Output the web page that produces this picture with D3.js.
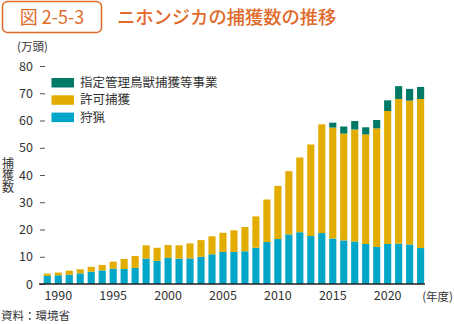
<!DOCTYPE html>
<html>
<head>
<meta charset="utf-8">
<script src="https://cdn.jsdelivr.net/npm/d3@7"></script>
<style>
  html, body { margin: 0; padding: 0; background: #fff; }
  svg text { font-family: "Noto Sans CJK JP", "Noto Sans", sans-serif; fill: #333; }
</style>
</head>
<body>
<svg id="chart" width="454" height="324"></svg>
<script>
// ニホンジカの捕獲数 (万頭), 1989–2023 年度
const years = d3.range(1989, 2024);
const hunting = [3.0, 3.2, 3.4, 3.9, 4.5, 5.0, 5.6, 5.5, 5.9,
  9.3, 8.5, 9.6, 9.3, 9.4, 10.0, 10.9, 11.8, 11.8, 12.0,
  13.3, 15.4, 16.5, 18.2, 19.0, 17.6, 18.7, 16.7, 16.0, 15.6, 14.7, 13.6, 14.7, 14.8, 14.5, 13.2];
const permit = [0.8, 1.0, 1.5, 1.5, 1.8, 2.0, 2.6, 3.7, 4.4,
  4.9, 4.8, 4.7, 4.9, 5.5, 6.1, 6.6, 7.0, 7.9, 8.9,
  11.5, 15.6, 19.5, 23.2, 27.4, 33.6, 39.9, 40.7, 39.2, 41.1, 40.2, 43.5, 48.8, 53.1, 52.8, 54.7];
const designated = [0, 0, 0, 0, 0, 0, 0, 0, 0,
  0, 0, 0, 0, 0, 0, 0, 0, 0, 0,
  0, 0, 0, 0, 0, 0, 0, 1.8, 2.6, 3.1, 2.6, 3.1, 3.9, 4.7, 4.3, 4.4];

const keys = ['hunting', 'permit', 'designated'];
const labels = { hunting: '狩猟', permit: '許可捕獲', designated: '指定管理鳥獣捕獲等事業' };
const colors = { hunting: '#00a6c8', permit: '#e2ac00', designated: '#007a66' };
const yTicks = [0, 10, 20, 30, 40, 50, 60, 70, 80];
const xTickYears = [1990, 1995, 2000, 2005, 2010, 2015, 2020];

const ORANGE = '#e06a2a';

const rows = years.map((y, i) => ({
  year: y, hunting: hunting[i], permit: permit[i], designated: designated[i]
}));

const svg = d3.select('#chart');

// Title
svg.append('rect')
  .attr('x', 2.5).attr('y', 1.5).attr('width', 99).attr('height', 31).attr('rx', 5)
  .attr('fill', '#fff').attr('stroke', ORANGE).attr('stroke-width', 1.5);
svg.append('text')
  .attr('x', 52).attr('y', 24).attr('text-anchor', 'middle')
  .style('font-size', '18px').style('fill', ORANGE)
  .text('図 2-5-3');
svg.append('text')
  .attr('x', 117).attr('y', 24)
  .style('font-size', '18.3px').style('font-weight', 500).style('fill', ORANGE)
  .text('ニホンジカの捕獲数の推移');

// Scales
const x = d3.scaleBand()
  .domain(years)
  .range([41.8, 426.1])
  .paddingInner(0.35)
  .paddingOuter(0.175);

const y = d3.scaleLinear().domain([0, 80]).range([284, 66]);

const stacked = d3.stack().keys(keys)(rows);

svg.append('g')
  .selectAll('g')
  .data(stacked)
  .join('g')
  .attr('fill', d => colors[d.key])
  .selectAll('rect')
  .data(d => d)
  .join('rect')
  .attr('x', d => x(d.data.year))
  .attr('width', x.bandwidth())
  .attr('y', d => y(d[1]))
  .attr('height', d => y(d[0]) - y(d[1]));

// Y axis (ticks only)
const yAxis = svg.append('g')
  .attr('transform', 'translate(45,0)')
  .call(d3.axisLeft(y).tickValues(yTicks).tickSize(5).tickPadding(7));
yAxis.select('.domain').remove();
yAxis.selectAll('.tick line').attr('stroke', '#555');
yAxis.selectAll('.tick text').style('font-size', '12.5px').style('fill', '#333')
  .attr('font-family', null);

// Baseline
svg.append('line')
  .attr('x1', 39).attr('x2', 425)
  .attr('y1', y(0)).attr('y2', y(0))
  .attr('stroke', '#222').attr('stroke-width', 1.5);

// X axis labels
const xAxis = svg.append('g')
  .attr('transform', `translate(0,${y(0)})`)
  .call(d3.axisBottom(x).tickValues(xTickYears).tickSize(0).tickPadding(7));
xAxis.select('.domain').remove();
xAxis.selectAll('.tick text').style('font-size', '12.5px').style('fill', '#333')
  .attr('font-family', null);

// Axis titles
svg.append('text').attr('x', 17).attr('y', 51)
  .style('font-size', '11.5px').text('(万頭)');
svg.append('text').attr('x', 8).attr('y', 157)
  .style('font-size', '12px').style('writing-mode', 'vertical-rl')
  .text('捕獲数');
svg.append('text').attr('x', 453).attr('y', 301).attr('text-anchor', 'end')
  .style('font-size', '11.5px').text('(年度)');
svg.append('text').attr('x', 1).attr('y', 320)
  .style('font-size', '11.5px').text('資料：環境省');

// Legend
const legendOrder = ['designated', 'permit', 'hunting'];
const legend = svg.append('g');
legendOrder.forEach((k, i) => {
  const ly = 78 + i * 17.3;
  legend.append('rect').attr('x', 51.5).attr('y', ly).attr('width', 22.5).attr('height', 9.5)
    .attr('fill', colors[k]);
  legend.append('text').attr('x', 80).attr('y', ly + 9)
    .style('font-size', '12.5px').text(labels[k]);
});
</script>
</body>
</html>
